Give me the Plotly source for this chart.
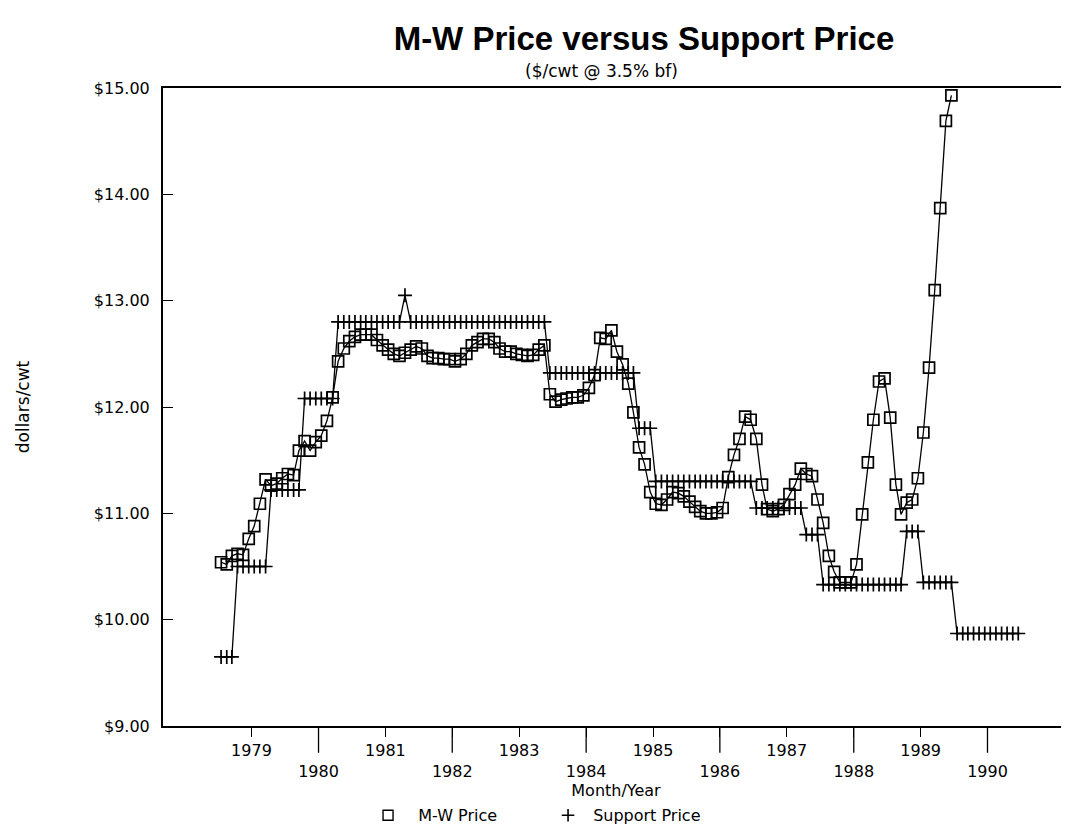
import plotly.graph_objects as go
import pandas as pd

# ---------------- data (monthly, Jan 1979 onward) ----------------
mw_price = [
    10.54, 10.52, 10.60, 10.62, 10.61, 10.76, 10.88, 11.09, 11.32, 11.26, 11.28, 11.33,  # 1979
    11.37, 11.36, 11.59, 11.68, 11.59, 11.67, 11.73, 11.87, 12.09, 12.43, 12.55, 12.62,  # 1980
    12.66, 12.68, 12.68, 12.68, 12.63, 12.58, 12.54, 12.50, 12.48, 12.51, 12.54, 12.57,  # 1981
    12.55, 12.48, 12.46, 12.46, 12.45, 12.45, 12.43, 12.45, 12.50, 12.58, 12.61, 12.64,  # 1982
    12.64, 12.61, 12.55, 12.52, 12.52, 12.50, 12.49, 12.48, 12.49, 12.54, 12.58, 12.12,  # 1983
    12.05, 12.07, 12.08, 12.09, 12.09, 12.11, 12.18, 12.30, 12.65, 12.64, 12.72, 12.52,  # 1984
    12.40, 12.22, 11.95, 11.62, 11.46, 11.20, 11.09, 11.08, 11.13, 11.20, 11.19, 11.16,  # 1985
    11.11, 11.06, 11.02, 11.00, 11.00, 11.01, 11.05, 11.34, 11.55, 11.70, 11.91, 11.88,  # 1986
    11.70, 11.27, 11.04, 11.02, 11.04, 11.08, 11.18, 11.27, 11.42, 11.37, 11.35, 11.13,  # 1987
    10.91, 10.60, 10.45, 10.35, 10.35, 10.35, 10.52, 10.99, 11.48, 11.88, 12.24, 12.27,  # 1988
    11.90, 11.27, 10.99, 11.10, 11.13, 11.33, 11.76, 12.37, 13.10, 13.87, 14.69, 14.93,  # 1989
]

support_price = [
    9.65, 9.65, 9.65, 10.50, 10.50, 10.50, 10.50, 10.50, 10.50, 11.22, 11.22, 11.22,    # 1979
    11.22, 11.22, 11.22, 12.08, 12.08, 12.08, 12.08, 12.08, 12.08, 12.80, 12.80, 12.80,  # 1980
    12.80, 12.80, 12.80, 12.80, 12.80, 12.80, 12.80, 12.80, 12.80, 13.05, 12.80, 12.80,  # 1981
    12.80, 12.80, 12.80, 12.80, 12.80, 12.80, 12.80, 12.80, 12.80, 12.80, 12.80, 12.80,  # 1982
    12.80, 12.80, 12.80, 12.80, 12.80, 12.80, 12.80, 12.80, 12.80, 12.80, 12.80, 12.32,  # 1983
    12.32, 12.32, 12.32, 12.32, 12.32, 12.32, 12.32, 12.32, 12.32, 12.32, 12.32, 12.32,  # 1984
    12.32, 12.32, 12.32, 11.80, 11.80, 11.80, 11.30, 11.30, 11.30, 11.30, 11.30, 11.30,  # 1985
    11.30, 11.30, 11.30, 11.30, 11.30, 11.30, 11.30, 11.30, 11.30, 11.30, 11.30, 11.30,  # 1986
    11.05, 11.05, 11.05, 11.05, 11.05, 11.05, 11.05, 11.05, 11.05, 10.80, 10.80, 10.80,  # 1987
    10.33, 10.33, 10.33, 10.33, 10.33, 10.33, 10.33, 10.33, 10.33, 10.33, 10.33, 10.33,  # 1988
    10.33, 10.33, 10.33, 10.83, 10.83, 10.83, 10.35, 10.35, 10.35, 10.35, 10.35, 10.35,  # 1989
    9.87, 9.87, 9.87, 9.87, 9.87, 9.87, 9.87, 9.87, 9.87, 9.87, 9.87, 9.87,              # 1990
]

years = [1979, 1980, 1981, 1982, 1983, 1984, 1985, 1986, 1987, 1988, 1989, 1990]
y_ticks = [9, 10, 11, 12, 13, 14, 15]
y_tick_labels = ["$9.00", "$10.00", "$11.00", "$12.00", "$13.00", "$14.00", "$15.00"]

# ---------------- build ----------------
months_mw = pd.date_range("1979-01-01", periods=len(mw_price), freq="MS")
months_sp = pd.date_range("1979-01-01", periods=len(support_price), freq="MS")

# year ticks sit at the middle of each year
tick_pos = [pd.Timestamp(f"{y}-06-16") for y in years]
tick_txt = [str(y) if y % 2 == 1 else "<br>" + str(y) for y in years]

FONT = "DejaVu Sans"
BLACK = "#000000"
NB = "\u00a0"

fig = go.Figure()

fig.add_trace(go.Scatter(
    x=months_sp, y=support_price, mode="lines+markers", name="Support Price",
    line=dict(color=BLACK, width=1.3),
    marker=dict(symbol="cross-thin", size=10, line=dict(color=BLACK, width=1.7)),
    showlegend=False,
))
fig.add_trace(go.Scatter(
    x=months_mw, y=mw_price, mode="lines+markers", name="M-W Price",
    line=dict(color=BLACK, width=1.3),
    marker=dict(symbol="square-open", size=11, color=BLACK, line=dict(color=BLACK, width=1.7)),
    showlegend=False,
))

# legend entries (symbols only, like the original)
fig.add_trace(go.Scatter(
    x=[None], y=[None], mode="markers", name=NB * 2 + "M-W Price",
    marker=dict(symbol="square-open", size=10, color=BLACK, line=dict(color=BLACK, width=1.4)),
))
fig.add_trace(go.Scatter(
    x=[None], y=[None], mode="markers", name=NB * 1 + "Support Price",
    marker=dict(symbol="cross-thin", size=9, line=dict(color=BLACK, width=1.6)),
))

# longer tick marks for the even (lower-labelled) years
for y, tp in zip(years, tick_pos):
    if y % 2 == 0:
        fig.add_shape(type="line", xref="x", yref="paper", x0=tp, x1=tp,
                      y0=0, y1=-0.042, line=dict(color=BLACK, width=1.3))

fig.update_layout(
    width=1061, height=827,
    paper_bgcolor="white", plot_bgcolor="white",
    margin=dict(l=155, r=0, t=80, b=109),
    font=dict(family=FONT, color=BLACK, size=15),
    title=dict(text="<b>M-W Price versus Support Price</b>",
               font=dict(family="Liberation Sans", size=33, color=BLACK),
               x=0.5994, xanchor="center", xref="container",
               y=0.963, yanchor="middle", yref="container"),
    legend=dict(orientation="h", x=0.425, xanchor="center", y=-0.14, yanchor="middle",
                font=dict(family=FONT, size=16, color=BLACK),
                itemwidth=30, entrywidth=135, entrywidthmode="pixels",
                tracegroupgap=0, bgcolor="rgba(0,0,0,0)"),
    annotations=[dict(text="($/cwt @ 3.5% bf)", xref="paper", yref="paper",
                      x=0.484, y=1.027, xanchor="center", yanchor="middle",
                      showarrow=False, font=dict(family=FONT, size=17, color=BLACK))],
)

fig.update_xaxes(
    range=[pd.Timestamp("1978-02-18"), pd.Timestamp("1991-09-04")],
    tickmode="array", tickvals=tick_pos, ticktext=tick_txt,
    ticks="outside", ticklen=9, tickwidth=1.3, tickcolor=BLACK,
    showline=True, linecolor=BLACK, linewidth=1.5, mirror=True,
    showgrid=False, zeroline=False,
    tickfont=dict(family=FONT, size=16, color=BLACK),
    title=dict(text="Month/Year", font=dict(family=FONT, size=16, color=BLACK), standoff=2),
)
fig.update_yaxes(
    range=[9, 15],
    tickmode="array", tickvals=y_ticks, ticktext=y_tick_labels,
    ticks="inside", ticklen=10, tickwidth=1.3, tickcolor=BLACK,
    showline=True, linecolor=BLACK, linewidth=2, mirror=False,
    showgrid=False, zeroline=False,
    ticklabelstandoff=8,
    tickfont=dict(family=FONT, size=16, color=BLACK),
    title=dict(text="dollars/cwt", font=dict(family=FONT, size=17, color=BLACK), standoff=60),
)

fig.write_html("out.html")
